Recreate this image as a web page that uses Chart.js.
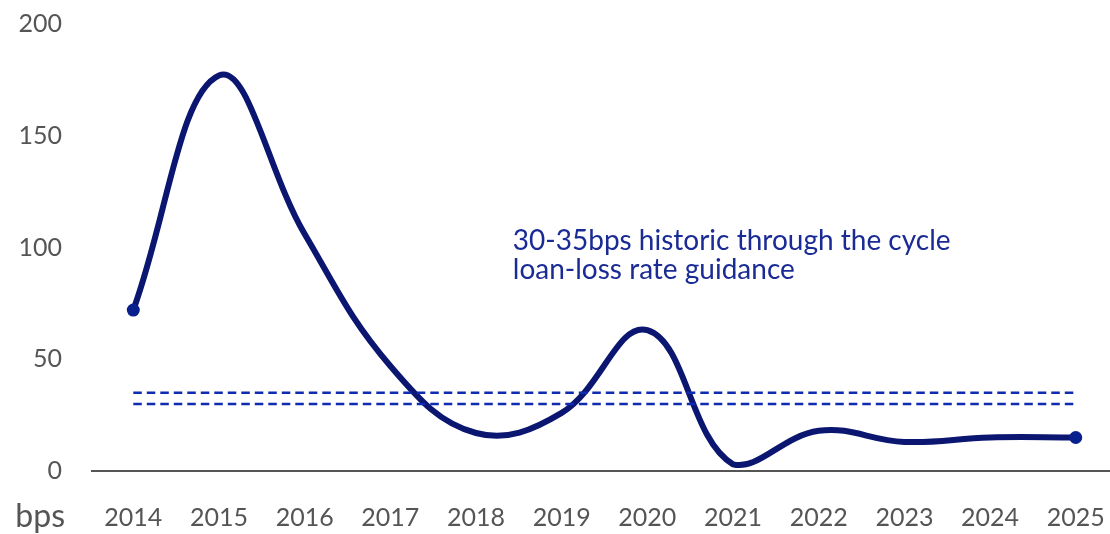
<!DOCTYPE html>
<html lang="en">
<head>
    <meta charset="UTF-8">
    <title>Loan-loss rate</title>
    <script src="https://cdnjs.cloudflare.com/ajax/libs/Chart.js/4.4.0/chart.umd.min.js"></script>
    <style>
        body { margin: 0; background: #fff; }
        .wrap { width: 1110px; height: 534px; position: relative; }
    </style>
</head>
<body>
    <div class="wrap"><canvas id="lossChart"></canvas></div>

    <script>
        // loan-loss rate per year, in bps
        const years = [2014, 2015, 2016, 2017, 2018, 2019, 2020, 2021, 2022, 2023, 2024, 2025];
        const lossRate = [72, 177, 106, 47, 17, 26, 63, 3, 18, 13, 15, 15];

        // guidance band (bps)
        const guidanceLow = 30;
        const guidanceHigh = 35;
        const guidanceText = ['30-35bps historic through the cycle', 'loan-loss rate guidance'];

        const yTicks = [0, 50, 100, 150, 200];
        const unitLabel = 'bps';

        const tickFont = { family: 'Lato', size: 25 };
        const tickColor = '#555555';

        const lossPoints = years.map((y, i) => ({ x: y, y: lossRate[i] }));
        const first = years[0], last = years[years.length - 1];

        // markers only on the first and last point
        const pointSizes = years.map((y, i) => (i === 0 || i === years.length - 1) ? 6.5 : 0);

        function bandLine(v) {
            return {
                data: [{ x: first, y: v }, { x: last, y: v }],
                borderColor: '#0f2bb0',
                borderWidth: 2.5,
                borderDash: [8.5, 5],
                pointRadius: 0,
                tension: 0,
                fill: false
            };
        }

        // extra text: unit label under the y axis and the band note
        const textPlugin = {
            id: 'chartText',
            afterDraw(chart) {
                const ctx = chart.ctx;
                const xs = chart.scales.x, ys = chart.scales.y;
                ctx.save();
                ctx.font = '32px Lato';
                ctx.fillStyle = tickColor;
                ctx.textAlign = 'right';
                ctx.textBaseline = 'middle';
                ctx.fillText(unitLabel, 65, xs.top + 46);

                ctx.font = '28px Lato';
                ctx.fillStyle = '#1a2b95';
                ctx.textAlign = 'left';
                ctx.textBaseline = 'alphabetic';
                const tx = xs.getPixelForValue(2018.43);
                ctx.fillText(guidanceText[0], tx, ys.getPixelForValue(99));
                ctx.fillText(guidanceText[1], tx, ys.getPixelForValue(86));
                ctx.restore();
            }
        };

        new Chart(document.getElementById('lossChart'), {
            type: 'line',
            data: {
                datasets: [
                    bandLine(guidanceHigh),
                    bandLine(guidanceLow),
                    {
                        data: lossPoints,
                        borderColor: '#0b1670',
                        backgroundColor: '#07208e',
                        borderWidth: 6,
                        pointRadius: pointSizes,
                        pointHoverRadius: pointSizes,
                        pointBorderWidth: 0,
                        tension: 0.4,
                        fill: false
                    }
                ]
            },
            options: {
                responsive: true,
                maintainAspectRatio: false,
                animation: false,
                layout: { autoPadding: false, padding: { top: 24, left: 0, right: 0, bottom: 0 } },
                plugins: {
                    legend: { display: false },
                    tooltip: { enabled: false }
                },
                scales: {
                    x: {
                        type: 'linear',
                        min: 2013.518,
                        max: 2025.40,
                        grid: { display: false },
                        border: { display: true, color: tickColor, width: 2 },
                        afterFit(s) { s.height = 63; s.paddingLeft = 0; s.paddingRight = 0; },
                        afterBuildTicks(s) { s.ticks = years.map(v => ({ value: v })); },
                        ticks: {
                            font: tickFont,
                            color: tickColor,
                            padding: 24,
                            maxRotation: 0,
                            autoSkip: false,
                            callback: v => String(v)
                        }
                    },
                    y: {
                        min: 0,
                        max: 200,
                        grid: { display: false },
                        border: { display: false },
                        afterFit(s) { s.width = 92; s.paddingTop = 0; s.paddingBottom = 0; },
                        afterBuildTicks(s) { s.ticks = yTicks.map(v => ({ value: v })); },
                        ticks: {
                            font: tickFont,
                            color: tickColor,
                            padding: 22
                        }
                    }
                }
            },
            plugins: [textPlugin]
        });
    </script>
</body>
</html>
